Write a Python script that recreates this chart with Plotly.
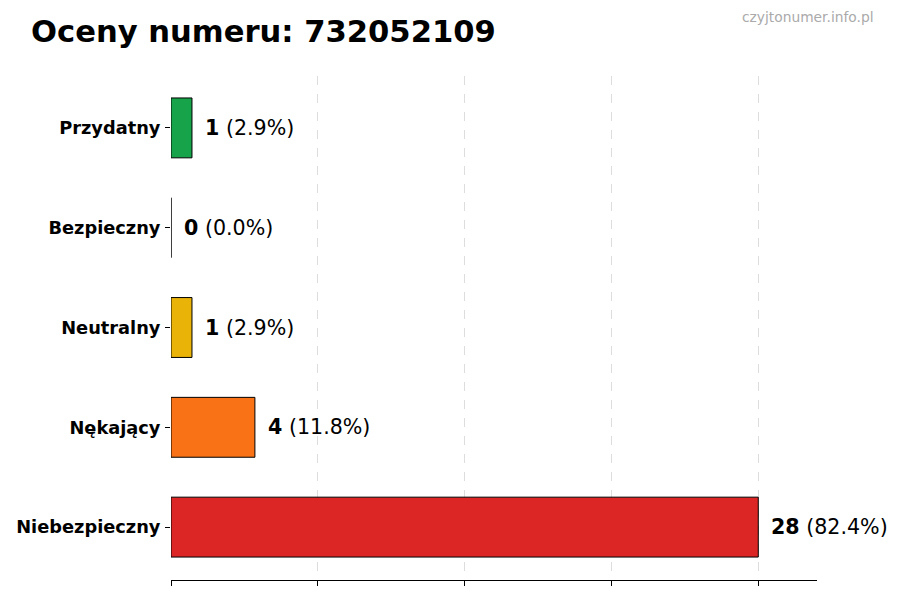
import plotly.graph_objects as go

# dane
kategorie = ["Niebezpieczny", "Nękający", "Neutralny", "Bezpieczny", "Przydatny"]
liczby = [28, 4, 1, 0, 1]
kolory = ["#dc2626", "#f97316", "#eab308", "#9ca3af", "#16a34a"]
numer = "732052109"

suma = sum(liczby)
procenty = [100 * v / suma for v in liczby]

# strona ma 8px marginesu body, więc wszystko przesunięte o 8px
OFF = 8

fig = go.Figure(
    go.Bar(
        x=liczby,
        y=kategorie,
        orientation="h",
        width=0.6,
        marker=dict(color=kolory, line=dict(color="black", width=1)),
        hoverinfo="skip",
    )
)

# etykiety przy słupkach
for k, v, p in zip(kategorie, liczby, procenty):
    fig.add_annotation(
        x=v,
        y=k,
        text=f"<b>{v}</b> ({p:.1f}%)",
        showarrow=False,
        xanchor="left",
        xshift=11,
        font=dict(family="DejaVu Sans", size=20.6, color="black"),
    )

fig.add_annotation(
    text="czyjtonumer.info.pl",
    xref="paper",
    yref="paper",
    x=1,
    y=1,
    xanchor="right",
    yanchor="middle",
    xshift=(876 - OFF) - (900 - 91),
    yshift=(76 - OFF) - (17 - OFF),
    showarrow=False,
    font=dict(family="DejaVu Sans", size=13.8, color="#aaaaaa"),
)

fig.update_layout(
    width=900,
    height=600,
    plot_bgcolor="white",
    paper_bgcolor="white",
    margin=dict(l=171 - OFF, r=91, t=76 - OFF, b=28, autoexpand=False),
    showlegend=False,
    title=dict(
        text=f"<b>Oceny numeru: {numer}</b>",
        x=(31 - OFF) / 900,
        xanchor="left",
        y=1 - (31 - OFF) / 600,
        yanchor="middle",
        font=dict(family="DejaVu Sans", size=30.6, color="black"),
    ),
    font=dict(family="DejaVu Sans", color="black"),
)

fig.update_xaxes(
    range=[0, 30.8],
    dtick=7,
    showticklabels=False,
    ticks="outside",
    ticklen=5,
    tickcolor="black",
    showline=True,
    linecolor="black",
    linewidth=1,
    showgrid=True,
    gridcolor="#dddddd",
    griddash="dash",
    gridwidth=0.8,
    zeroline=False,
    automargin=False,
)

fig.update_yaxes(
    categoryorder="array",
    categoryarray=kategorie,
    range=[-0.53, 4.52],
    ticks="outside",
    ticklen=5,
    tickcolor="black",
    ticklabelstandoff=1,
    showline=False,
    showgrid=False,
    automargin=False,
    tickfont=dict(family="DejaVu Sans", size=17.8, color="black", weight="bold"),
)

fig.write_html("out.html")
